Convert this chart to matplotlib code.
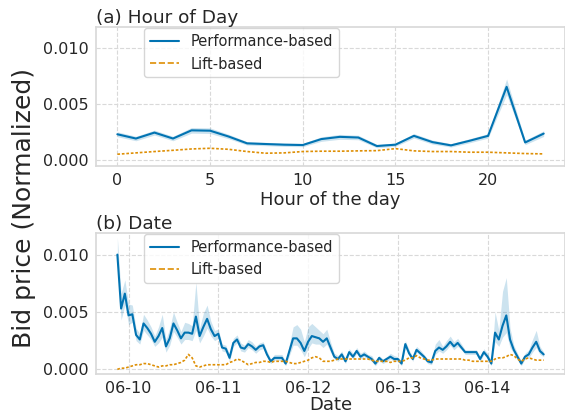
import numpy as np
import pandas as pd
import matplotlib
matplotlib.use("Agg")
import matplotlib.pyplot as plt
import matplotlib.dates as mdates
from matplotlib.lines import Line2D
import seaborn as sns

sns.set_theme(style="whitegrid", rc={"grid.linestyle": "--", "axes.edgecolor": "0.85"})
plt.rcParams['font.family'] = ['DejaVu Sans']

blue = "#0173b2"
orange = "#de8f05"

# (a) hour of day
hours = list(range(24))
perf_hour = [0.00233, 0.00195, 0.00248, 0.00195, 0.00268, 0.00265, 0.00213, 0.00152,
             0.00146, 0.00140, 0.00137, 0.00190, 0.00210, 0.00204, 0.00128, 0.00140,
             0.00219, 0.00163, 0.00134, 0.00175, 0.00219, 0.00656, 0.00160, 0.00239]
perf_hour_ci = [0.00022, 0.0002, 0.00022, 0.0002, 0.00025, 0.00025, 0.0002, 0.00015,
                0.00015, 0.00015, 0.00015, 0.0002, 0.00022, 0.0002, 0.00015, 0.00015,
                0.0002, 0.00018, 0.00015, 0.00018, 0.0002, 0.0007, 0.0002, 0.00025]
lift_hour = [0.00055, 0.00067, 0.00079, 0.00090, 0.00102, 0.00108, 0.00099, 0.00079,
             0.00064, 0.00067, 0.00079, 0.00082, 0.00082, 0.00085, 0.00087, 0.00105,
             0.00085, 0.00079, 0.00079, 0.00073, 0.00073, 0.00067, 0.00061, 0.00058]

# (b) hourly series by date
dates = pd.date_range("2019-06-09 21:00", periods=115, freq="h")
perf_date = [0.0100, 0.0053, 0.0066,
             0.0047, 0.0048, 0.0030, 0.0026, 0.0040, 0.0036, 0.0031, 0.0024,
             0.0029, 0.0036, 0.0020, 0.0027, 0.0040, 0.0034, 0.0027, 0.0032,
             0.0032, 0.0031, 0.0046, 0.0029, 0.0037, 0.0044, 0.0035, 0.0029,
             0.0031, 0.0019, 0.0018, 0.0010, 0.0023, 0.0026, 0.0019, 0.0018,
             0.0022, 0.0020, 0.0017, 0.0020, 0.0021, 0.0013, 0.0007, 0.0010,
             0.0010, 0.0010, 0.0005, 0.0016, 0.0027, 0.0027, 0.0023, 0.0016,
             0.0024, 0.0029, 0.0028, 0.0027, 0.0024, 0.0027, 0.0019, 0.0011,
             0.0009, 0.0013, 0.0007, 0.0015, 0.0011, 0.0016, 0.0011, 0.0013,
             0.0011, 0.0009, 0.0005, 0.0010, 0.0007, 0.0009, 0.0011, 0.0009,
             0.0009, 0.0005, 0.0022, 0.0014, 0.0009, 0.0017, 0.0014, 0.0011,
             0.0007, 0.0006, 0.0016, 0.0019, 0.0017, 0.0020, 0.0024, 0.0020,
             0.0023, 0.0019, 0.0015, 0.0015, 0.0015, 0.0015, 0.0009, 0.0015,
             0.0011, 0.0005, 0.0032, 0.0026, 0.0038, 0.0047, 0.0026, 0.0017,
             0.0011, 0.0005, 0.0011, 0.0013, 0.0019, 0.0024, 0.0016, 0.0013]
perf_date_up = [0.0015, 0.0013, 0.0012,
                0.0010, 0.0008, 0.0006, 0.0005, 0.0008, 0.0007, 0.0006, 0.0005,
                0.0008, 0.0012, 0.0006, 0.0009, 0.0010, 0.0007, 0.0006, 0.0009,
                0.0008, 0.0007, 0.0030, 0.0007, 0.0012, 0.0012, 0.0007, 0.0005,
                0.0004, 0.0003, 0.0003, 0.0003, 0.0004, 0.0004, 0.0004, 0.0003,
                0.0004, 0.0004, 0.0003, 0.0003, 0.0003, 0.0003, 0.0002, 0.0003,
                0.0003, 0.0003, 0.0002, 0.0006, 0.0010, 0.0012, 0.0012, 0.0008,
                0.0013, 0.0011, 0.0009, 0.0007, 0.0007, 0.0008, 0.0005, 0.0003,
                0.0003, 0.0003, 0.0002, 0.0003, 0.0003, 0.0003, 0.0003, 0.0003,
                0.0002, 0.0003, 0.0002, 0.0002, 0.0002, 0.0002, 0.0003, 0.0003,
                0.0002, 0.0002, 0.0003, 0.0003, 0.0002, 0.0003, 0.0003, 0.0002,
                0.0002, 0.0002, 0.0006, 0.0007, 0.0003, 0.0005, 0.0005, 0.0004,
                0.0004, 0.0003, 0.0002, 0.0002, 0.0002, 0.0002, 0.0002, 0.0003,
                0.0003, 0.0002, 0.0018, 0.0008, 0.0030, 0.0033, 0.0010, 0.0004,
                0.0003, 0.0002, 0.0003, 0.0004, 0.0007, 0.0010, 0.0004, 0.0002]
perf_date_dn = [0.0010, 0.0010, 0.0010,
                0.0008, 0.0007, 0.0005, 0.0004, 0.0006, 0.0006, 0.0005, 0.0004,
                0.0006, 0.0008, 0.0005, 0.0006, 0.0007, 0.0006, 0.0005, 0.0006,
                0.0006, 0.0006, 0.0012, 0.0006, 0.0008, 0.0008, 0.0006, 0.0004,
                0.0004, 0.0003, 0.0003, 0.0003, 0.0003, 0.0003, 0.0003, 0.0003,
                0.0003, 0.0003, 0.0003, 0.0003, 0.0003, 0.0002, 0.0002, 0.0002,
                0.0002, 0.0002, 0.0002, 0.0004, 0.0006, 0.0006, 0.0006, 0.0005,
                0.0006, 0.0006, 0.0006, 0.0005, 0.0005, 0.0005, 0.0004, 0.0002,
                0.0002, 0.0002, 0.0002, 0.0002, 0.0002, 0.0002, 0.0002, 0.0002,
                0.0002, 0.0002, 0.0002, 0.0002, 0.0002, 0.0002, 0.0002, 0.0002,
                0.0002, 0.0002, 0.0003, 0.0002, 0.0002, 0.0002, 0.0002, 0.0002,
                0.0002, 0.0002, 0.0003, 0.0003, 0.0003, 0.0003, 0.0003, 0.0003,
                0.0003, 0.0002, 0.0002, 0.0002, 0.0002, 0.0002, 0.0002, 0.0002,
                0.0002, 0.0002, 0.0008, 0.0006, 0.0010, 0.0015, 0.0007, 0.0003,
                0.0002, 0.0002, 0.0002, 0.0003, 0.0004, 0.0005, 0.0003, 0.0002]
lift_date = [0.0000, 0.0001, 0.0001,
             0.0002, 0.0003, 0.0004, 0.0004, 0.0005, 0.0005, 0.0004, 0.0003,
             0.0002, 0.0003, 0.0003, 0.0004, 0.0004, 0.0005, 0.0006, 0.0008,
             0.0013, 0.0010, 0.0003, 0.0002, 0.0003, 0.0004, 0.0004, 0.0004,
             0.0004, 0.0004, 0.0004, 0.0006, 0.0007, 0.0009, 0.0008, 0.0006,
             0.0004, 0.0005, 0.0006, 0.0006, 0.0007, 0.0007, 0.0006, 0.0007,
             0.0007, 0.0007, 0.0007, 0.0006, 0.0005, 0.0005, 0.0006, 0.0007,
             0.0008, 0.0010, 0.0011, 0.0010, 0.0007, 0.0007, 0.0007, 0.0008,
             0.0009, 0.0009, 0.0009, 0.0009, 0.0009, 0.0009, 0.0009, 0.0009,
             0.0009, 0.0008, 0.0007, 0.0007, 0.0007, 0.0007, 0.0006, 0.0007,
             0.0007, 0.0007, 0.0008, 0.0010, 0.0010, 0.0012, 0.0010, 0.0009,
             0.0008, 0.0008, 0.0009, 0.0009, 0.0009, 0.0009, 0.0009, 0.0009,
             0.0009, 0.0009, 0.0008, 0.0008, 0.0007, 0.0007, 0.0007, 0.0007,
             0.0007, 0.0007, 0.0009, 0.0010, 0.0010, 0.0011, 0.0013, 0.0012,
             0.0009, 0.0007, 0.0009, 0.0010, 0.0009, 0.0008, 0.0008, 0.0008]

fig = plt.figure(figsize=(5.65, 4.15), dpi=100)
ax1 = fig.add_axes([0.170, 0.600, 0.830, 0.335])
ax2 = fig.add_axes([0.170, 0.099, 0.830, 0.340])

# legend handles: the plotted lift line looks finely dashed, the legend shows plain dashes
handles = [Line2D([], [], color=blue, lw=1.5),
           Line2D([], [], color=orange, lw=1.2, ls="--")]
labels = ["Performance-based", "Lift-based"]

ph = np.array(perf_hour)
ax1.fill_between(hours, ph - np.array(perf_hour_ci), ph + np.array(perf_hour_ci),
                 color=blue, alpha=0.2, linewidth=0)
ax1.plot(hours, ph, color=blue, lw=1.5)
ax1.plot(hours, lift_hour, color=orange, lw=1.2, dashes=(1.6, 1.1))
ax1.set_ylim(-0.0005, 0.0119)
ax1.set_yticks([0.0, 0.005, 0.010])
ax1.set_yticklabels(["0.000", "0.005", "0.010"])
ax1.set_xticks([0, 5, 10, 15, 20])
ax1.set_xlabel("Hour of the day", fontsize=13, labelpad=2)
ax1.set_title("(a) Hour of Day", loc="left", fontsize=13.3, pad=3)
ax1.legend(handles, labels, loc="upper left", bbox_to_anchor=(0.1, 1.0), fontsize=10.5,
           borderaxespad=0.1, frameon=True)

pd_arr = np.array(perf_date)
ax2.fill_between(dates, pd_arr - np.array(perf_date_dn), pd_arr + np.array(perf_date_up),
                 color=blue, alpha=0.2, linewidth=0)
ax2.plot(dates, pd_arr, color=blue, lw=1.5)
ax2.plot(dates, lift_date, color=orange, lw=1.2, dashes=(1.6, 1.1))
ax2.set_ylim(-0.0004, 0.0119)
ax2.set_yticks([0.0, 0.005, 0.010])
ax2.set_yticklabels(["0.000", "0.005", "0.010"])
ax2.xaxis.set_major_locator(mdates.DayLocator())
ax2.xaxis.set_major_formatter(mdates.DateFormatter("%m-%d"))
ax2.set_xlabel("Date", fontsize=13, labelpad=0)
ax2.set_title("(b) Date", loc="left", fontsize=13.3, pad=3)
ax2.legend(handles, labels, loc="upper left", bbox_to_anchor=(0.1, 1.0), fontsize=10.5,
           borderaxespad=0.1, frameon=True)

for ax in (ax1, ax2):
    ax.tick_params(labelsize=11.5, length=0, pad=5)
    ax.grid(True, linestyle="--", color="0.85", linewidth=0.8)

fig.text(0.042, 0.5, "Bid price (Normalized)", rotation=90, va="center", ha="center",
         fontsize=18)

fig.savefig("out.png", dpi=100)
